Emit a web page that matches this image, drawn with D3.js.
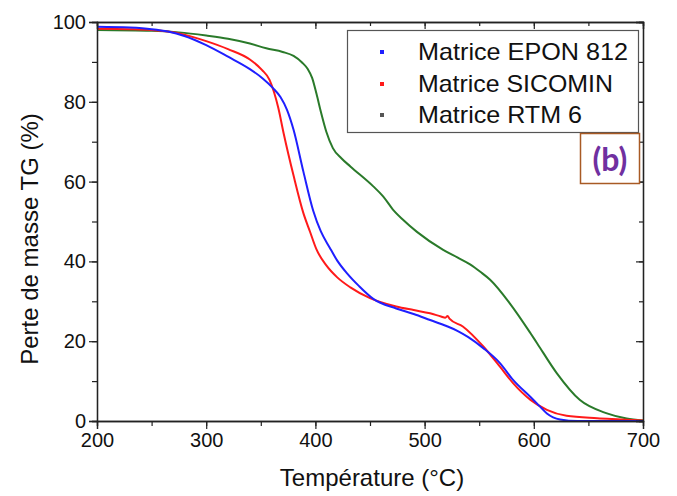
<!DOCTYPE html>
<html>
<head>
<meta charset="utf-8">
<script src="https://cdn.jsdelivr.net/npm/d3@7"></script>
<style>
  html, body { margin: 0; padding: 0; background: #ffffff; }
  svg { display: block; }
  text { font-family: "Liberation Sans", Arial, sans-serif; fill: #111; }
</style>
</head>
<body>
<svg id="chart" width="677" height="496"></svg>
<script>
// ---- Data ----
const seriesNames = ["Matrice EPON 812", "Matrice SICOMIN", "Matrice RTM 6"];
const seriesColors = ["#1f1fff", "#ff1a1a", "#2a7a2a"];

const eponT = [200,230,250,265,280,300,320,340,352,361,368,374,380,389,398,405,413,420,429,440,453,474,490,505,520,530,540,554,569,581,597,605,612,624,640,700];
const eponM = [98.8,98.6,98.2,97.6,96.5,94.2,91.3,88.2,85.8,83.5,81.2,78.0,73.0,62.5,52.7,47.5,43.5,40.2,37.0,33.8,30.6,28.2,26.8,25.3,23.8,22.6,21.0,18.2,14.5,10.3,6.0,3.8,1.9,0.4,0.0,0.0];

const sicominT = [200,230,250,265,280,300,320,340,351,358,362,366,371,380,389,395,401,410,420,432,450,474,490,505,515,519,521,523,535,554,569,581,597,612,630,658,680,700];
const sicominM = [98.3,98.2,98.0,97.6,96.8,95.2,93.2,90.6,88.0,85.5,82.5,78.5,72.0,61.5,52.1,47.5,43.0,39.0,36.0,33.5,30.8,28.7,27.8,27.0,26.2,25.9,26.3,25.6,23.7,18.6,13.6,9.5,5.3,2.8,1.3,0.7,0.4,0.1];

const rtmT = [200,250,275,300,320,340,355,370,380,388,393,397,401,405,410,416,424,432,453,462,471,480,493,517,530,542,551,560,578,597,603,621,642,667,685,700];
const rtmM = [98.0,97.8,97.4,96.6,95.8,94.6,93.4,92.5,91.5,89.8,88.2,86.0,82.0,77.5,72.5,68.4,65.8,63.8,58.8,56.3,53.0,50.5,47.4,42.9,41.0,39.2,37.4,35.4,29.5,22.0,19.5,12.0,5.3,1.9,0.6,0.1];

const xTicks = [200,300,400,500,600,700];
const yTicks = [0,20,40,60,80,100];
const xTitle = "Température (°C)";
const yTitle = "Perte de masse TG (%)";
const panelLabel = "(b)";

// ---- Layout ----
const svg = d3.select("#chart");
const L = 97, R = 643, T = 22, B = 421;

const x = d3.scaleLinear().domain([200, 700]).range([L, R]);
const y = d3.scaleLinear().domain([0, 100]).range([B, T]);

const series = [
  {name: seriesNames[0], color: seriesColors[0], t: eponT, m: eponM},
  {name: seriesNames[1], color: seriesColors[1], t: sicominT, m: sicominM},
  {name: seriesNames[2], color: seriesColors[2], t: rtmT, m: rtmM}
];

const line = d3.line()
  .x(d => x(d[0]))
  .y(d => y(d[1]))
  .curve(d3.curveMonotoneX);

[2, 1, 0].forEach(i => {
  const s = series[i];
  svg.append("path")
    .datum(s.t.map((v, k) => [v, s.m[k]]))
    .attr("fill", "none")
    .attr("stroke", s.color)
    .attr("stroke-width", 2)
    .attr("d", line);
});

// ---- Axes ----
const xMinor = d3.range(200, 701, 50);
const yMinor = d3.range(0, 101, 10);

function styleAxis(g) {
  g.selectAll("path.domain").attr("stroke", "#222").attr("stroke-width", 1.3);
  g.selectAll(".tick line").attr("stroke", "#222").attr("stroke-width", 1.2);
}

// bottom
const gxMinor = svg.append("g").attr("transform", `translate(0,${B})`)
  .call(d3.axisBottom(x).tickValues(xMinor).tickSize(5).tickFormat(""));
styleAxis(gxMinor);
const gx = svg.append("g").attr("transform", `translate(0,${B})`)
  .call(d3.axisBottom(x).tickValues(xTicks).tickSize(8).tickPadding(4).tickFormat(d3.format("d")));
styleAxis(gx);
gx.selectAll("text").attr("font-size", 20).attr("fill", "#111")
  .style("font-family", "Liberation Sans, Arial, sans-serif");

// top (ticks inward)
const gtMinor = svg.append("g").attr("transform", `translate(0,${T})`)
  .call(d3.axisTop(x).tickValues(xMinor).tickSize(-4).tickFormat(""));
styleAxis(gtMinor);
const gt = svg.append("g").attr("transform", `translate(0,${T})`)
  .call(d3.axisTop(x).tickValues(xTicks).tickSize(-7).tickFormat(""));
styleAxis(gt);

// left
const gyMinor = svg.append("g").attr("transform", `translate(${L},0)`)
  .call(d3.axisLeft(y).tickValues(yMinor).tickSize(5).tickFormat(""));
styleAxis(gyMinor);
const gy = svg.append("g").attr("transform", `translate(${L},0)`)
  .call(d3.axisLeft(y).tickValues(yTicks).tickSize(8).tickPadding(3).tickFormat(d3.format("d")));
styleAxis(gy);
gy.selectAll("text").attr("font-size", 20).attr("fill", "#111")
  .style("font-family", "Liberation Sans, Arial, sans-serif");

// right (ticks inward)
const grMinor = svg.append("g").attr("transform", `translate(${R},0)`)
  .call(d3.axisRight(y).tickValues(yMinor).tickSize(-4).tickFormat(""));
styleAxis(grMinor);
const gr = svg.append("g").attr("transform", `translate(${R},0)`)
  .call(d3.axisRight(y).tickValues(yTicks).tickSize(-7).tickFormat(""));
styleAxis(gr);

// ---- Axis titles ----
svg.append("text")
  .attr("x", 372).attr("y", 486)
  .attr("text-anchor", "middle")
  .attr("font-size", 24)
  .text(xTitle);

svg.append("text")
  .attr("transform", `translate(38,${239}) rotate(-90)`)
  .attr("text-anchor", "middle")
  .attr("font-size", 24)
  .text(yTitle);

// ---- Legend ----
const lg = svg.append("g");
lg.append("rect")
  .attr("x", 347.5).attr("y", 30.5).attr("width", 291).attr("height", 102)
  .attr("fill", "#ffffff").attr("stroke", "#555").attr("stroke-width", 1.2);
const rowY = [52, 84, 115];
const legendLen = [210, 195, 164];
series.forEach((s, i) => {
  lg.append("rect")
    .attr("x", 380).attr("y", rowY[i] - 2).attr("width", 4).attr("height", 4)
    .attr("fill", i === 2 ? "#555" : s.color);
  lg.append("text")
    .attr("x", 418).attr("y", rowY[i] + 8)
    .attr("font-size", 24)
    .attr("textLength", legendLen[i])
    .attr("lengthAdjust", "spacingAndGlyphs")
    .text(s.name);
});

// ---- Panel label ----
svg.append("rect")
  .attr("x", 580.5).attr("y", 133.5).attr("width", 59).attr("height", 50)
  .attr("fill", "#ffffff").attr("stroke", "#a85a24").attr("stroke-width", 1.5);
svg.append("text")
  .attr("x", 610).attr("y", 171)
  .attr("text-anchor", "middle")
  .attr("font-size", 32)
  .attr("font-weight", "bold")
  .style("font-family", "Lato, 'Open Sans', sans-serif")
  .style("fill", "#7030a0")
  .text(panelLabel);
</script>
</body>
</html>
